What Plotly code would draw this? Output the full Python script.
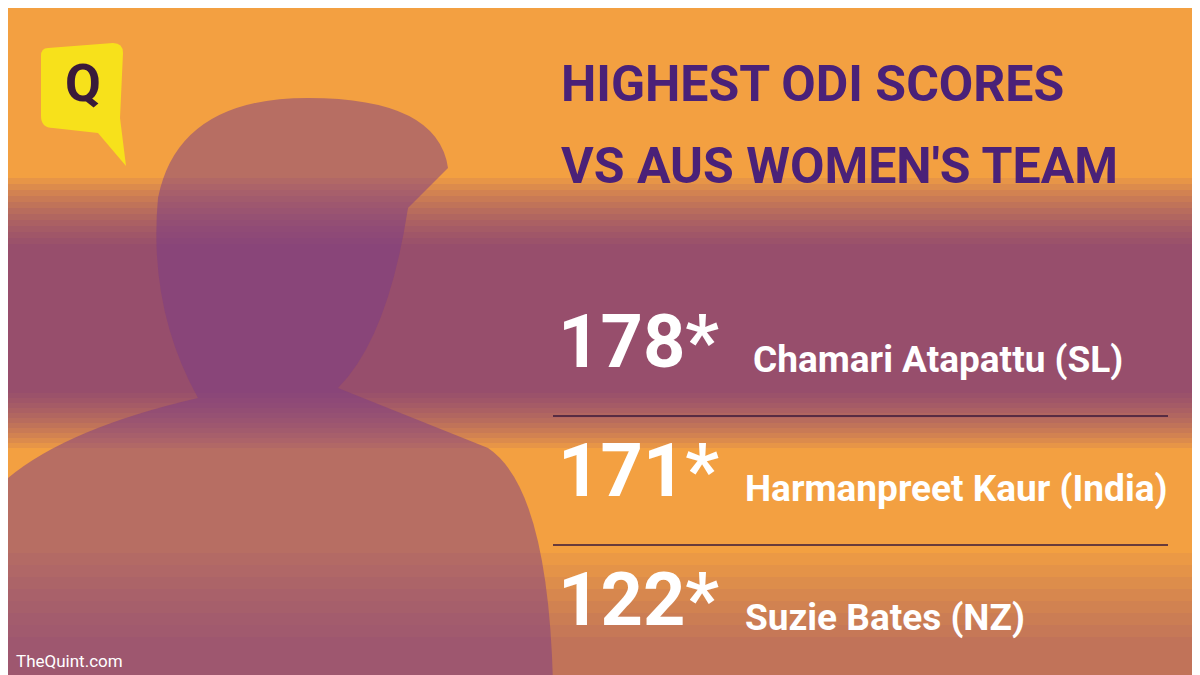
import plotly.graph_objects as go

title_lines = ["HIGHEST ODI SCORES", "VS AUS WOMEN'S TEAM"]
scores = ["178*", "171*", "122*"]
players = ["Chamari Atapattu (SL)", "Harmanpreet Kaur (India)", "Suzie Bates (NZ)"]
credit = "TheQuint.com"

FONT = "Roboto, sans-serif"
PURPLE = "#4a2178"

fig = go.Figure()
shapes = []
for k in range(12):
    shapes.append(dict(type="rect", xref="x", yref="y", x0=0, x1=1200, y0=170 + k * 6, y1=440 - k * 5,
                       fillcolor="#6a2d86", opacity=0.09, line_width=0, layer="below"))
for k in range(8):
    shapes.append(dict(type="rect", xref="x", yref="y", x0=0, x1=1200, y0=545 + k * 12, y1=675,
                       fillcolor="#7a3a8a", opacity=0.06, line_width=0, layer="below"))
shapes.append(dict(type="path", xref="x", yref="y",
                   path="M 150 190 Q 170 90 300 90 Q 430 90 440 160 L 400 200 Q 380 330 330 380 "
                        "L 480 440 Q 540 480 545 675 L 0 675 L 0 470 Q 60 420 190 390 Q 140 300 150 190 Z",
                   fillcolor="#7b3b86", opacity=0.5, line_width=0, layer="below"))
for y in (408, 537):
    shapes.append(dict(type="line", xref="x", yref="y", x0=545, x1=1160, y0=y, y1=y,
                       line=dict(color="#3a1a3a", width=1.5)))
shapes.append(dict(type="path", xref="x", yref="y", layer="below",
                   path="M 40 40 L 105 35 Q 115 35 115 45 L 112 110 L 118 158 L 90 125 L 45 120 Q 33 120 33 108 L 33 48 Q 33 40 40 40 Z",
                   fillcolor="#f7e11b", line_width=0))

fig.add_trace(go.Scatter(x=[75], y=[80], mode="text", text=["<b>Q</b>"],
                         textfont=dict(family=FONT, size=52, color="#3a1a3a"), hoverinfo="skip"))

fig.add_trace(go.Scatter(x=[553] * len(title_lines), y=[80 + 82 * i for i in range(len(title_lines))],
                         mode="text", text=[f"<b>{t}</b>" for t in title_lines], textposition="middle right",
                         textfont=dict(family=FONT, size=50, color=PURPLE), hoverinfo="skip"))
rows = [340 + 129 * i for i in range(len(scores))]
fig.add_trace(go.Scatter(x=[550] * len(scores), y=rows, mode="text",
                         text=[f"<b>{s}</b>" for s in scores], textposition="middle right",
                         textfont=dict(family=FONT, size=74, color="white"), hoverinfo="skip"))
name_x = [745, 737, 737]
fig.add_trace(go.Scatter(x=name_x, y=[r + 15 for r in rows], mode="text",
                         text=[f"<b>{p}</b>" for p in players], textposition="middle right",
                         textfont=dict(family=FONT, size=37, color="white"), hoverinfo="skip"))
fig.add_trace(go.Scatter(x=[8], y=[655], mode="text", text=[credit], textposition="middle right",
                         textfont=dict(family=FONT, size=17, color="white"), hoverinfo="skip"))

fig.update_layout(width=1200, height=675, margin=dict(l=0, r=0, t=0, b=0),
                  paper_bgcolor="#f3a041", plot_bgcolor="#f3a041", showlegend=False, shapes=shapes,
                  xaxis=dict(range=[0, 1200], visible=False, fixedrange=True),
                  yaxis=dict(range=[675, 0], visible=False, fixedrange=True))
fig.write_html("out.html")
